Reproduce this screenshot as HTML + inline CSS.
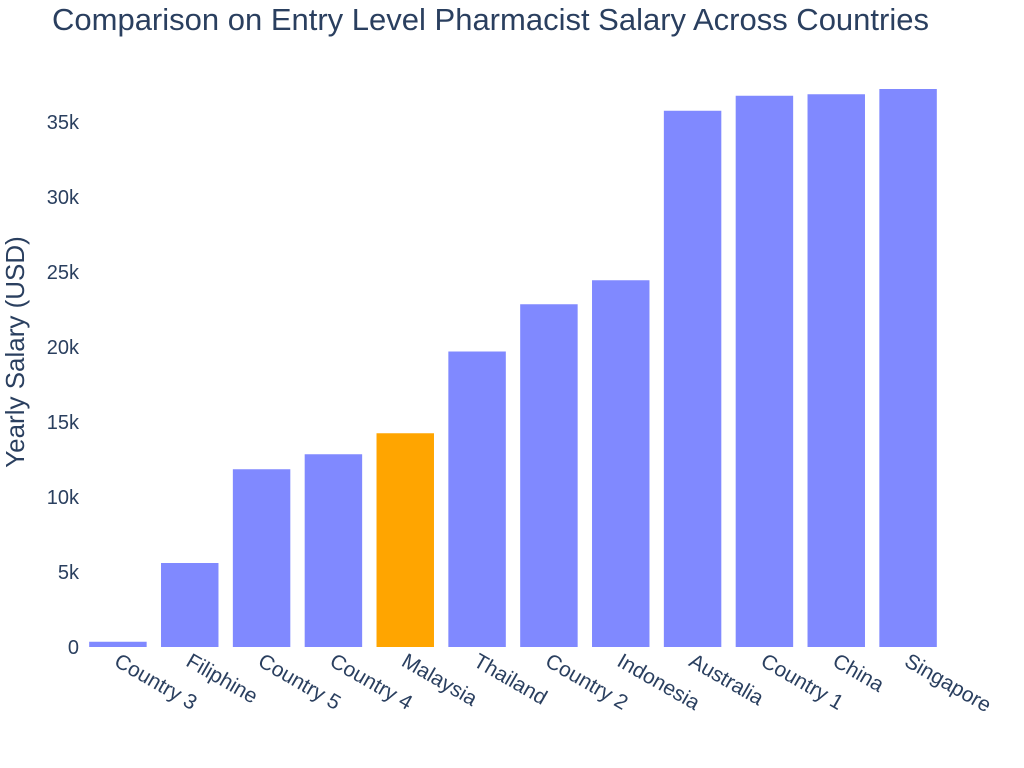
<!DOCTYPE html>
<html><head><meta charset="utf-8"><style>
body{margin:0;background:#fff;}
svg{display:block;font-family:"Liberation Sans",Arial,sans-serif;}
</style></head><body>
<svg id="chart" width="1024" height="768">
<text x="52" y="30" font-size="31" fill="#2a3f5f">Comparison on Entry Level Pharmacist Salary Across Countries</text>
<text transform="translate(24,352) rotate(-90)" text-anchor="middle" font-size="26" fill="#2a3f5f">Yearly Salary (USD)</text>
<g id="yticks"></g><g id="bars"></g><g id="xticks"></g>
</svg>
<script>
const categories=["Country 3","Filiphine","Country 5","Country 4","Malaysia","Thailand","Country 2","Indonesia","Australia","Country 1","China","Singapore"];
const salaries=[350,5600,11850,12850,14250,19700,22850,24450,35750,36750,36850,37200];
const highlight=["Malaysia"];
const yTicks=[0,5000,10000,15000,20000,25000,30000,35000];
const yTickLabels=["0","5k","10k","15k","20k","25k","30k","35k"];
const NS="http://www.w3.org/2000/svg";
const x0=82,x1=944,yBase=647,pxPer=525/35000;
const band=(x1-x0)/categories.length;
const y=v=>yBase-v*pxPer;
const xc=i=>x0+band*(i+0.5);
const yt=document.getElementById('yticks'),bg=document.getElementById('bars'),xt=document.getElementById('xticks');
yTicks.forEach((v,i)=>{
 const t=document.createElementNS(NS,'text');
 t.setAttribute('x',79);t.setAttribute('y',y(v)+7);t.setAttribute('text-anchor','end');
 t.setAttribute('font-size','20');t.setAttribute('fill','#2a3f5f');t.textContent=yTickLabels[i];
 
 
 yt.appendChild(t);
});
categories.forEach((c,i)=>{
 const r=document.createElementNS(NS,'rect');
 const w=band*0.8;
 r.setAttribute('x',xc(i)-w/2);r.setAttribute('width',w);
 r.setAttribute('y',y(salaries[i]));r.setAttribute('height',yBase-y(salaries[i]));
 r.setAttribute('fill',highlight.includes(c)?'#FFA500':'#8089FF');
 
 
 bg.appendChild(r);
 const t=document.createElementNS(NS,'text');
 t.setAttribute('transform','translate('+(xc(i)-5)+',665) rotate(30)');
 t.setAttribute('font-size','21');t.setAttribute('fill','#2a3f5f');t.textContent=c;
 
 
 xt.appendChild(t);
});
</script>
</body></html>
